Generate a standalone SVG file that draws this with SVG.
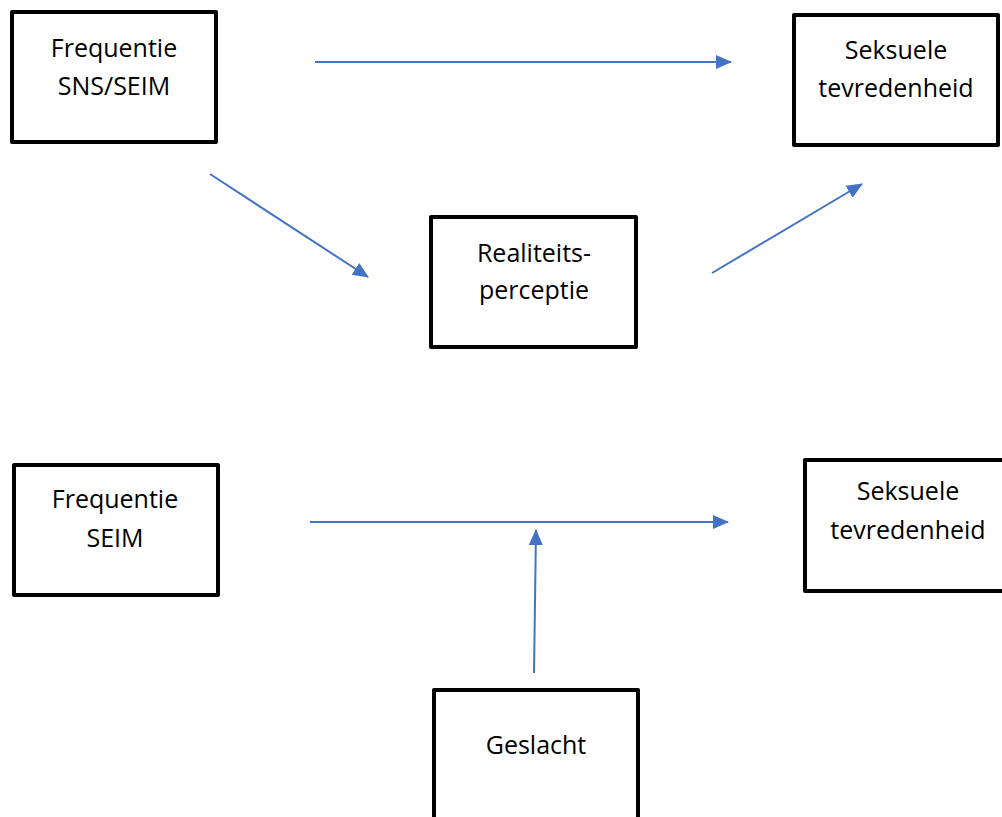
<svg xmlns="http://www.w3.org/2000/svg" width="1002" height="817" viewBox="0 0 1002 817">
<style>
.box{fill:#fff;stroke:#000;stroke-width:4;stroke-linejoin:round}
.lbl{font-family:"Open Sans","Noto Sans","Liberation Sans",sans-serif;font-size:25px;fill:#000;text-anchor:middle}
.edge{stroke:#4472C4;stroke-width:2;fill:none}
</style>
<defs>
<marker id="arr" markerUnits="userSpaceOnUse" markerWidth="16" markerHeight="16" viewBox="0 0 16 16" refX="15" refY="8" orient="auto">
<path d="M0,1 L16,8 L0,15 Z" fill="#4472C4"/>
</marker>
</defs>
<rect width="1002" height="817" fill="#fff"/>
<g id="connectors">
<line class="edge" x1="315" y1="62" x2="731" y2="62" marker-end="url(#arr)"/>
<line class="edge" x1="210" y1="174" x2="368" y2="277" marker-end="url(#arr)"/>
<line class="edge" x1="712" y1="273" x2="862" y2="184" marker-end="url(#arr)"/>
<line class="edge" x1="310" y1="522" x2="728" y2="522" marker-end="url(#arr)"/>
<line class="edge" x1="534" y1="673" x2="536" y2="530" marker-end="url(#arr)"/>
</g>
<g id="node-freq-sns">
<rect class="box" x="12" y="12" width="204" height="130"/>
<text class="lbl" x="114" y="57">Frequentie</text>
<text class="lbl" x="114" y="95">SNS/SEIM</text>
</g>
<g id="node-seks-top">
<rect class="box" x="794" y="15" width="204" height="130"/>
<text class="lbl" x="896" y="59">Seksuele</text>
<text class="lbl" x="896" y="97">tevredenheid</text>
</g>
<g id="node-realiteit">
<rect class="box" x="431" y="217" width="205" height="130"/>
<text class="lbl" x="534" y="262">Realiteits-</text>
<text class="lbl" x="534" y="299">perceptie</text>
</g>
<g id="node-freq-seim">
<rect class="box" x="14" y="465" width="204" height="130"/>
<text class="lbl" x="115" y="508">Frequentie</text>
<text class="lbl" x="115" y="547">SEIM</text>
</g>
<g id="node-seks-bottom">
<rect class="box" x="805" y="460" width="204" height="131"/>
<text class="lbl" x="908" y="500">Seksuele</text>
<text class="lbl" x="908" y="539">tevredenheid</text>
</g>
<g id="node-geslacht">
<rect class="box" x="434" y="690" width="204" height="130"/>
<text class="lbl" x="536" y="754">Geslacht</text>
</g>
</svg>
